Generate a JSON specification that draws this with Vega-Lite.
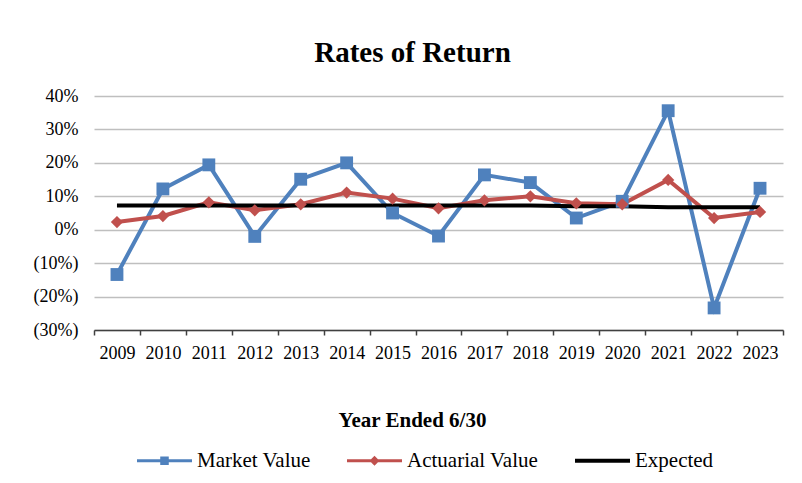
{
  "$schema": "https://vega.github.io/schema/vega-lite/v6.json",
  "width": 689,
  "height": 234,
  "autosize": {"type": "none"},
  "padding": {"left": 94, "top": 96, "right": 19, "bottom": 153},
  "background": "white",
  "title": {
    "text": "Rates of Return",
    "font": "Liberation Serif",
    "fontSize": 29,
    "fontWeight": "bold",
    "color": "black",
    "anchor": "middle",
    "frame": "group",
    "dx": -26,
    "dy": 39,
    "baseline": "alphabetic",
    "offset": 35
  },
  "data": {
    "values": [
      {"year": "2009", "series": "Market Value", "value": -0.134},
      {"year": "2010", "series": "Market Value", "value": 0.122},
      {"year": "2011", "series": "Market Value", "value": 0.194},
      {"year": "2012", "series": "Market Value", "value": -0.020},
      {"year": "2013", "series": "Market Value", "value": 0.151},
      {"year": "2014", "series": "Market Value", "value": 0.200},
      {"year": "2015", "series": "Market Value", "value": 0.050},
      {"year": "2016", "series": "Market Value", "value": -0.019},
      {"year": "2017", "series": "Market Value", "value": 0.164},
      {"year": "2018", "series": "Market Value", "value": 0.141},
      {"year": "2019", "series": "Market Value", "value": 0.035},
      {"year": "2020", "series": "Market Value", "value": 0.085},
      {"year": "2021", "series": "Market Value", "value": 0.356},
      {"year": "2022", "series": "Market Value", "value": -0.234},
      {"year": "2023", "series": "Market Value", "value": 0.124},
      {"year": "2009", "series": "Actuarial Value", "value": 0.023},
      {"year": "2010", "series": "Actuarial Value", "value": 0.041},
      {"year": "2011", "series": "Actuarial Value", "value": 0.082},
      {"year": "2012", "series": "Actuarial Value", "value": 0.058},
      {"year": "2013", "series": "Actuarial Value", "value": 0.076},
      {"year": "2014", "series": "Actuarial Value", "value": 0.111},
      {"year": "2015", "series": "Actuarial Value", "value": 0.093},
      {"year": "2016", "series": "Actuarial Value", "value": 0.064},
      {"year": "2017", "series": "Actuarial Value", "value": 0.088},
      {"year": "2018", "series": "Actuarial Value", "value": 0.100},
      {"year": "2019", "series": "Actuarial Value", "value": 0.079},
      {"year": "2020", "series": "Actuarial Value", "value": 0.076},
      {"year": "2021", "series": "Actuarial Value", "value": 0.149},
      {"year": "2022", "series": "Actuarial Value", "value": 0.035},
      {"year": "2023", "series": "Actuarial Value", "value": 0.053},
      {"year": "2009", "series": "Expected", "value": 0.0725},
      {"year": "2010", "series": "Expected", "value": 0.0725},
      {"year": "2011", "series": "Expected", "value": 0.0725},
      {"year": "2012", "series": "Expected", "value": 0.0725},
      {"year": "2013", "series": "Expected", "value": 0.0725},
      {"year": "2014", "series": "Expected", "value": 0.0725},
      {"year": "2015", "series": "Expected", "value": 0.0725},
      {"year": "2016", "series": "Expected", "value": 0.0725},
      {"year": "2017", "series": "Expected", "value": 0.0725},
      {"year": "2018", "series": "Expected", "value": 0.0725},
      {"year": "2019", "series": "Expected", "value": 0.07},
      {"year": "2020", "series": "Expected", "value": 0.07},
      {"year": "2021", "series": "Expected", "value": 0.0675},
      {"year": "2022", "series": "Expected", "value": 0.0675},
      {"year": "2023", "series": "Expected", "value": 0.0675}
    ]
  },
  "encoding": {
    "x": {
      "field": "year",
      "type": "ordinal",
      "scale": {"paddingInner": 0, "paddingOuter": 0},
      "axis": {
        "title": "Year Ended 6/30",
        "titleFont": "Liberation Serif",
        "titleFontSize": 21,
        "titleFontWeight": "bold",
        "titleColor": "black",
        "titleX": 318,
        "titleY": 96,
        "titleAlign": "center",
        "titleBaseline": "alphabetic",
        "labelAngle": 0,
        "labelFont": "Liberation Serif",
        "labelFontSize": 18,
        "labelColor": "black",
        "labelPadding": 9,
        "tickBand": "extent",
        "tickSize": 5,
        "tickColor": "#404040",
        "tickWidth": 1.5,
        "domainColor": "#404040",
        "domainWidth": 1.5,
        "grid": false
      }
    },
    "y": {
      "field": "value",
      "type": "quantitative",
      "scale": {"domain": [-0.3, 0.4], "nice": false, "zero": false},
      "axis": {
        "title": null,
        "values": [-0.3, -0.2, -0.1, 0, 0.1, 0.2, 0.3, 0.4],
        "labelExpr": "datum.value < 0 ? '(' + format(-datum.value, '.0%') + ')' : format(datum.value, '.0%')",
        "labelFont": "Liberation Serif",
        "labelFontSize": 18,
        "labelColor": "black",
        "labelPadding": 16,
        "domain": false,
        "ticks": false,
        "grid": true,
        "gridColor": "#bfbfbf",
        "gridWidth": 1.5
      }
    }
  },
  "layer": [
    {
      "mark": {"type": "line", "strokeWidth": 4},
      "encoding": {
        "color": {
          "field": "series",
          "type": "nominal",
          "scale": {"domain": ["Market Value", "Actuarial Value", "Expected"], "range": ["#4f81bd", "#c0504d", "#000000"]},
          "legend": {
            "title": null,
            "orient": "none",
            "legendX": 43,
            "legendY": 337,
            "direction": "horizontal",
            "symbolSize": 3025,
            "labelFont": "Liberation Serif",
            "labelFontSize": 21,
            "labelColor": "black",
            "labelOffset": 5,
            "columnPadding": 36,
            "labelLimit": 300,
            "encode": {
              "symbols": {
                "update": {
                  "shape": {"signal": "datum.value === 'Market Value' ? 'M-1,-0.055H1V0.055H-1Z M-0.155,-0.155H0.155V0.155H-0.155Z' : datum.value === 'Actuarial Value' ? 'M-1,-0.055H1V0.055H-1Z M0,-0.18L0.18,0L0,0.18L-0.18,0Z' : 'M-1,-0.075H1V0.075H-1Z'"},
                  "fill": {"scale": "color", "field": "value"},
                  "fillOpacity": {"value": 1},
                  "strokeWidth": {"value": 0}
                }
              }
            }
          }
        }
      }
    },
    {
      "transform": [{"filter": "datum.series === 'Market Value'"}],
      "mark": {"type": "point", "shape": "square", "filled": true, "size": 165, "opacity": 1, "color": "#4f81bd"},
      "encoding": {}
    },
    {
      "transform": [{"filter": "datum.series === 'Actuarial Value'"}],
      "mark": {"type": "point", "shape": "diamond", "filled": true, "size": 150, "opacity": 1, "color": "#c0504d"},
      "encoding": {}
    }
  ],
  "config": {
    "view": {"stroke": null}
  }
}
